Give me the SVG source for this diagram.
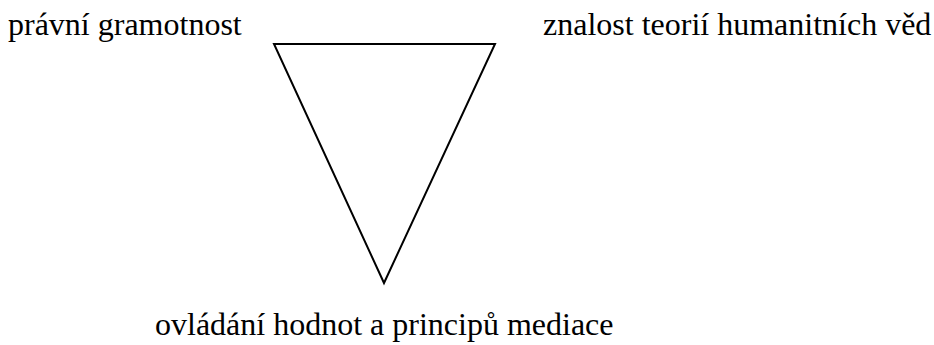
<svg xmlns="http://www.w3.org/2000/svg" width="934" height="345" viewBox="0 0 934 345">
<style>
text{font-family:'Liberation Serif','Times New Roman',Times,serif;font-size:32px;fill:#000}
.tri{fill:#fff;stroke:#000;stroke-width:2}
</style>
<rect width="934" height="345" fill="#fff"/>
<g id="connectors">
<polygon class="tri" points="274,44 495,44 384,283"/>
</g>
<g id="node-pravni"><text x="8" y="35">právní gramotnost</text></g>
<g id="node-znalost"><text x="543" y="35">znalost teorií humanitních věd</text></g>
<g id="node-ovladani"><text x="155" y="335">ovládání hodnot a principů mediace</text></g>
</svg>
